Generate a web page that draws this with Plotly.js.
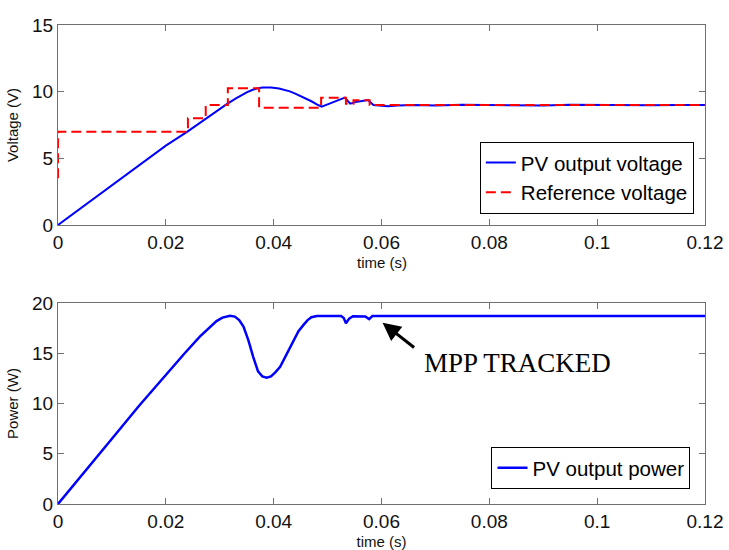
<!DOCTYPE html>
<html><head><meta charset="utf-8">
<script src="https://cdn.plot.ly/plotly-3.0.1.min.js"></script>
<style>body{margin:0;background:#fff}#chart{width:729px;height:550px}</style>
</head><body><div id="chart"></div>
<script>
// PV output voltage
const tVolt = [0, 0.005, 0.010, 0.015, 0.020, 0.024, 0.0275, 0.0295, 0.0313, 0.033, 0.034, 0.035, 0.036, 0.037, 0.038, 0.0387, 0.0395, 0.041, 0.042, 0.043, 0.044, 0.045, 0.046, 0.047, 0.048, 0.0489, 0.050, 0.052, 0.0532, 0.0542, 0.0555, 0.0575, 0.0585, 0.0612, 0.063, 0.066, 0.070, 0.075, 0.080, 0.085, 0.090, 0.095, 0.100, 0.105, 0.110, 0.115, 0.120];
const vPV = [0, 1.5, 3.0, 4.5, 5.95, 7.0, 8.0, 8.55, 9.07, 9.5, 9.75, 9.95, 10.12, 10.25, 10.31, 10.33, 10.32, 10.24, 10.15, 10.02, 9.85, 9.68, 9.5, 9.28, 9.05, 8.88, 9.05, 9.35, 9.55, 9.1, 9.25, 9.37, 9.0, 8.9, 8.97, 9.0, 8.97, 9.01, 8.98, 9.0, 8.97, 9.01, 8.99, 9.0, 8.98, 9.0, 9.0];
// Reference voltage (step)
const tRef = [0, 0, 0.0241, 0.0274, 0.0315, 0.0373, 0.0488, 0.0534, 0.0548, 0.0578, 0.120];
const vRef = [3.5, 7.0, 8.0, 9.0, 10.25, 8.8, 9.55, 9.1, 9.35, 9.0, 9.0];
// PV output power
const tPow = [0, 0.005, 0.010, 0.015, 0.020, 0.0235, 0.0263, 0.028, 0.0294, 0.0305, 0.0319, 0.0328, 0.0336, 0.0344, 0.0353, 0.0362, 0.0371, 0.0379, 0.0387, 0.0395, 0.0403, 0.0412, 0.0424, 0.0436, 0.0446, 0.0455, 0.0463, 0.0470, 0.0480, 0.0525, 0.0530, 0.0534, 0.0540, 0.0547, 0.0570, 0.0577, 0.0583, 0.120];
const pPV = [0, 3.2, 6.5, 9.75, 12.9, 15.0, 16.65, 17.5, 18.2, 18.55, 18.74, 18.65, 18.3, 17.65, 16.3, 14.65, 13.2, 12.7, 12.57, 12.7, 13.1, 13.66, 14.9, 16.3, 17.2, 17.8, 18.3, 18.58, 18.7, 18.7, 18.5, 17.98, 18.45, 18.68, 18.65, 18.4, 18.7, 18.7];

const axisCommon = {
  showline: true, mirror: 'ticks', linecolor: '#707070', linewidth: 1,
  ticks: 'inside', ticklen: 6, tickcolor: '#707070', showgrid: false, zeroline: false,
  tickfont: {family: 'Liberation Sans, Arial', size: 19, color: '#111'}
};
const titleFont = {family: 'Liberation Sans, Arial', size: 15, color: '#111'};

const traces = [
  {x: tVolt, y: vPV, xaxis: 'x', yaxis: 'y', mode: 'lines', name: 'PV output voltage',
   line: {color: '#0000ff', width: 2}, legend: 'legend'},
  {x: tRef, y: vRef, xaxis: 'x', yaxis: 'y', mode: 'lines', name: 'Reference voltage',
   line: {color: '#ff0000', width: 2, dash: '10px,5px', shape: 'hv'}, legend: 'legend'},
  {x: tPow, y: pPV, xaxis: 'x2', yaxis: 'y2', mode: 'lines', name: 'PV output power',
   line: {color: '#0000ff', width: 2.5}, legend: 'legend2'}
];

const legendCommon = {
  bgcolor: '#fff', bordercolor: '#000', borderwidth: 1,
  font: {family: 'Liberation Sans, Arial', size: 20.5, color: '#000'},
  xanchor: 'left', yanchor: 'middle', tracegroupgap: 0, itemwidth: 30
};

const layout = {
  width: 729, height: 550,
  margin: {l: 58, r: 24, t: 25, b: 46},
  paper_bgcolor: '#fff', plot_bgcolor: '#fff',
  showlegend: true,
  xaxis: Object.assign({}, axisCommon, {domain: [0, 1], range: [0, 0.12], dtick: 0.02, anchor: 'y'}),
  yaxis: Object.assign({}, axisCommon, {domain: [0.5825, 1], range: [0, 15], dtick: 5, anchor: 'x',
    title: {text: 'Voltage (V)', font: titleFont}}),
  xaxis2: Object.assign({}, axisCommon, {domain: [0, 1], range: [0, 0.12], dtick: 0.02, anchor: 'y2',
    title: {text: 'time (s)', font: titleFont}}),
  yaxis2: Object.assign({}, axisCommon, {domain: [0, 0.4196], range: [0, 20], dtick: 5, anchor: 'x2',
    title: {text: 'Power (W)', font: titleFont}}),
  legend: Object.assign({}, legendCommon, {x: 0.652, y: 0.6812}),
  legend2: Object.assign({}, legendCommon, {x: 0.67, y: 0.0752}),
  annotations: [
    {xref: 'paper', yref: 'paper', x: 0.5, y: 0.5052, yanchor: 'middle', text: 'time (s)', showarrow: false,
     font: titleFont},
    {xref: 'x2', yref: 'y2', x: 0.0602, y: 18.04, ax: 33, ay: 26, text: '', showarrow: true,
     arrowhead: 2, arrowsize: 1.2, arrowwidth: 3, arrowcolor: '#000'},
    {xref: 'x2', yref: 'y2', x: 0.0853, y: 14.06, text: 'MPP TRACKED', showarrow: false,
     font: {family: 'Liberation Serif, Times New Roman', size: 27, color: '#000'}}
  ]
};

Plotly.newPlot('chart', traces, layout, {displayModeBar: false, staticPlot: true});
</script></body></html>
